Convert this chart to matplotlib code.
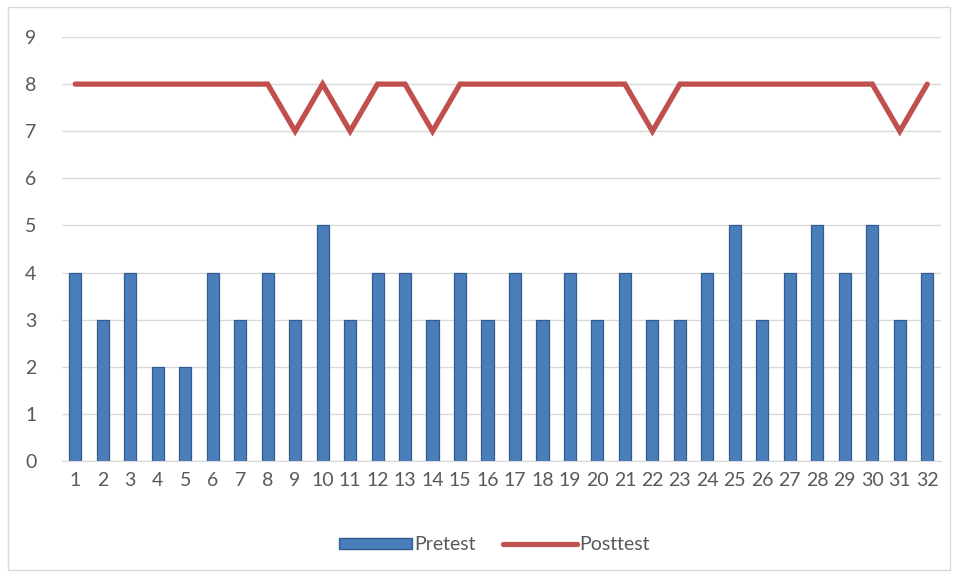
import matplotlib
matplotlib.use("Agg")
import matplotlib.pyplot as plt
from matplotlib.patches import Rectangle
from matplotlib.lines import Line2D

categories = list(range(1, 33))
pretest = [4, 3, 4, 2, 2, 4, 3, 4, 3, 5, 3, 4, 4, 3, 4, 3, 4, 3, 4, 3, 4, 3, 3, 4, 5, 3, 4, 5, 4, 5, 3, 4]
posttest = [8, 8, 8, 8, 8, 8, 8, 8, 7, 8, 7, 8, 8, 7, 8, 8, 8, 8, 8, 8, 8, 7, 8, 8, 8, 8, 8, 8, 8, 8, 7, 8]
yticks = list(range(0, 10))

plt.rcParams['font.family'] = ['Lato', 'DejaVu Sans']

fig = plt.figure(figsize=(9.57, 5.78), dpi=100)
fig.patches.append(Rectangle((8/957, 1-570/578), 942/957, 563/578, transform=fig.transFigure,
                             fill=False, edgecolor='#D9D9D9', linewidth=1))
ax = fig.add_axes([61.5/957, 1-461/578, (941-61.5)/957, (461-37)/578])

x = list(range(len(categories)))
ax.bar(x, pretest, width=0.44, color='#4A7EBB', edgecolor='#2F5B8E', linewidth=0.9, zorder=2)
ax.plot(x, posttest, color='#C0504D', linewidth=3.8, solid_capstyle='round', solid_joinstyle='miter', zorder=3)

ax.set_xlim(-0.5, len(categories) - 0.5)
ax.set_ylim(0, 9)
ax.set_yticks(yticks)
ax.set_xticks(x)
ax.set_xticklabels([str(c) for c in categories])
ax.tick_params(axis='both', length=0, labelsize=14, colors='#595959', pad=8)
ax.tick_params(axis='y', pad=18)
ax.grid(axis='y', color='#D9D9D9', linewidth=1, zorder=0)
ax.set_axisbelow(True)
for s in ['top', 'right', 'left']:
    ax.spines[s].set_visible(False)
ax.spines['bottom'].set_color('#D9D9D9')

handles = [Rectangle((0, 0), 1, 1, facecolor='#4A7EBB', edgecolor='#2F5B8E'),
           Line2D([0], [0], color='#C0504D', linewidth=3.8, solid_capstyle='round')]
fig.legend(handles, ['Pretest', 'Posttest'], loc='center', bbox_to_anchor=(494/957, 1-545/578),
           ncol=2, frameon=False, fontsize=14, labelcolor='#595959', handlelength=3.8,
           handletextpad=0.1, columnspacing=1.4, handleheight=0.5)

fig.savefig('out.png', dpi=100)
